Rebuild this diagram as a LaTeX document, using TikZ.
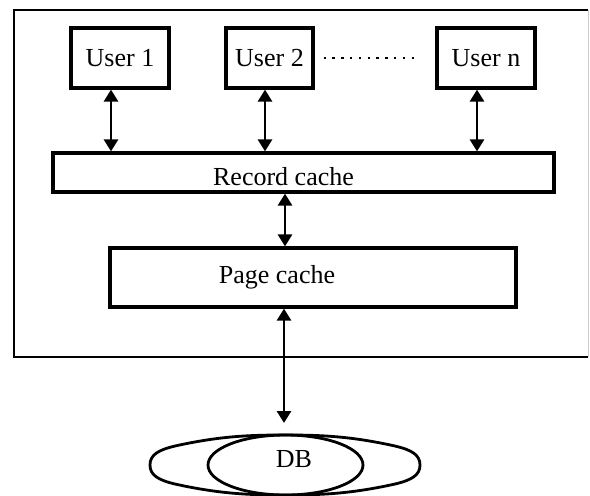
\documentclass[tikz,border=0pt]{standalone}
\usepackage{fontspec}
\setmainfont{Liberation Serif}
\usetikzlibrary{arrows.meta,shapes.geometric}
\begin{document}
\begin{tikzpicture}[x=0.5pt,y=-0.5pt,
  box/.style={draw,line width=1.6pt,rectangle,inner sep=0pt,font=\fontsize{13}{15}\selectfont},
  lbl/.style={inner sep=0pt,anchor=base,font=\fontsize{13}{15}\selectfont},
  arr/.style={line width=1.4pt,{Triangle[width=7pt,length=6pt]}-{Triangle[width=7pt,length=6pt]}},
  dotline/.style={line width=0.8pt,dash pattern=on 1.2pt off 3.2pt}]
\useasboundingbox (0,0) rectangle (590,495);
% outer frame
\coordinate (ftl) at (14,10);
\coordinate (ftr) at (588,10);
\coordinate (fbl) at (14,357);
\coordinate (fbr) at (588,357);
\draw[line width=1.4pt] (ftr) -- (ftl) -- (fbl) -- (fbr);
\draw[gray!40,line width=0.5pt] (ftr) -- (fbr);
% users
\node[box,minimum width=49pt,minimum height=30pt] (u1) at (120,58) {User 1};
\node[box,minimum width=43.5pt,minimum height=30pt] (u2) at (269.5,58) {User 2};
\node[box,minimum width=49pt,minimum height=30pt] (un) at (486,58) {User n};
\path (u2.east) ++(4.5pt,0) coordinate (d1) (un.west) ++(-9.5pt,0) coordinate (d2);
\draw[dotline] (d1) -- (d2);
% record cache
\node[box,minimum width=250.5pt,minimum height=19.5pt] (rc) at (303.5,172.5) {};
\node[lbl] (rct) at (283.5,185) {Record cache};
% page cache
\node[box,minimum width=203pt,minimum height=29.5pt] (pc) at (313,277.5) {};
\node[lbl] (pct) at (277,283) {Page cache};
% arrows users - record cache
\coordinate (a1) at (111,0);
\coordinate (a2) at (265,0);
\coordinate (an) at (477,0);
\coordinate (a3) at (285,0);
\draw[arr] (u1.south -| a1) -- (rc.north -| a1);
\draw[arr] (u2.south -| a2) -- (rc.north -| a2);
\draw[arr] (un.south -| an) -- (rc.north -| an);
\draw[arr] (rc.south -| a3) -- (pc.north -| a3);
% DB
\draw[line width=1.4pt] (150,465) .. controls (150,455) and (158,450) .. (175,446)
  .. controls (220,436) and (250,435) .. (285,435)
  .. controls (320,435) and (350,436) .. (395,446)
  .. controls (412,450) and (420,455) .. (420,465)
  .. controls (420,475) and (412,480) .. (395,484)
  .. controls (350,494) and (320,495) .. (285,495)
  .. controls (250,495) and (220,494) .. (175,484)
  .. controls (158,480) and (150,475) .. (150,465) -- cycle;
\node[draw,ellipse,line width=1.4pt,inner sep=0pt,minimum width=77.5pt,minimum height=30pt] (dbin) at (285.5,465) {};
\node[lbl] (dbt) at (294,467) {DB};
\coordinate (dbtop) at (284,423);
\draw[arr] (pc.south -| dbtop) -- (dbtop);
\end{tikzpicture}
\end{document}
